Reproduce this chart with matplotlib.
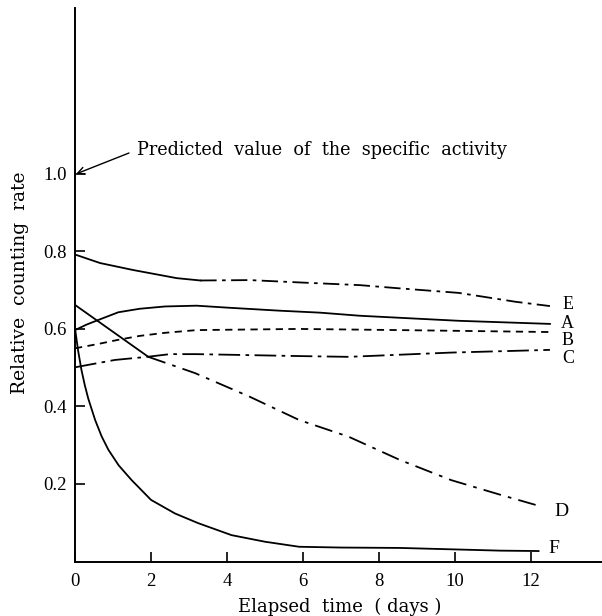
import matplotlib
matplotlib.use("Agg")
import matplotlib.pyplot as plt

# values
e_days = [0, 0.66, 1.53, 2.68, 3.3, 4.6, 5.9, 7.5, 8.5, 10.1, 11.6, 12.5]
e_vals = [0.792, 0.770, 0.752, 0.731, 0.725, 0.726, 0.720, 0.713, 0.705, 0.693, 0.670, 0.659]
a_days = [0, 0.3, 0.61, 1.14, 1.7, 2.37, 3.2, 4.0, 5.4, 6.45, 7.5, 10.1, 12.5]
a_vals = [0.597, 0.611, 0.623, 0.643, 0.652, 0.658, 0.660, 0.655, 0.647, 0.642, 0.634, 0.621, 0.613]
b_days = [0, 0.6, 1.14, 1.7, 2.37, 3.2, 5.9, 8.55, 12.5]
b_vals = [0.550, 0.561, 0.572, 0.582, 0.590, 0.597, 0.600, 0.597, 0.592]
c_days = [0, 1.05, 1.9, 2.5, 3.2, 5.9, 7.2, 9.9, 12.5]
c_vals = [0.501, 0.520, 0.528, 0.535, 0.535, 0.530, 0.528, 0.539, 0.546]
d_days = [0, 1.93, 3.16, 4.6, 5.9, 7.2, 8.55, 9.9, 11.2, 12.3]
d_vals = [0.662, 0.528, 0.486, 0.425, 0.365, 0.322, 0.262, 0.210, 0.172, 0.141]
f_days = [0, 0.08, 0.17, 0.26, 0.35, 0.53, 0.7, 0.88, 1.15, 1.49, 2.0, 2.63, 3.24, 4.12, 5.0, 5.9, 7.0, 8.55, 11.2, 12.2]
f_vals = [0.602, 0.545, 0.494, 0.454, 0.420, 0.365, 0.323, 0.288, 0.248, 0.210, 0.159, 0.124, 0.099, 0.068, 0.051, 0.038, 0.036, 0.035, 0.028, 0.027]

x_ticks = [0, 2, 4, 6, 8, 10, 12]
y_ticks = [0.2, 0.4, 0.6, 0.8, 1.0]
y_ticklabels = ["0.2", "0.4", "0.6", "0.8", "1.0"]

plt.rcParams['font.family'] = ['Liberation Serif', 'DejaVu Serif']

fig = plt.figure(figsize=(6.02, 6.16), dpi=100)
ax = fig.add_axes([75 / 602, 54.5 / 616, 527 / 602, 553.5 / 616])
ax.set_xlim(0, 13.87)
ax.set_ylim(0, 1.428)

lw = 1.3
# E: solid first, then long dash / dot
ax.plot(e_days[:5], e_vals[:5], color='black', lw=lw)
ax.plot(e_days[4:], e_vals[4:], color='black', lw=lw, dashes=(9, 3, 2, 3))
ax.plot(a_days, a_vals, color='black', lw=lw)
ax.plot(b_days, b_vals, color='black', lw=lw, dashes=(4, 3))
ax.plot(c_days, c_vals, color='black', lw=lw, dashes=(12, 3, 2, 3))
# D: solid to day 2, then dash-dot
ax.plot(d_days[:2], d_vals[:2], color='black', lw=lw)
ax.plot(d_days[1:], d_vals[1:], color='black', lw=lw, dashes=(10, 4, 2, 4))
ax.plot(f_days, f_vals, color='black', lw=lw)

# curve labels at the right ends
ax.text(12.97, 0.662, "E", fontsize=13, ha='center', va='center')
ax.text(12.97, 0.613, "A", fontsize=13, ha='center', va='center')
ax.text(12.97, 0.569, "B", fontsize=13, ha='center', va='center')
ax.text(12.97, 0.525, "C", fontsize=13, ha='center', va='center')
ax.text(12.8, 0.128, "D", fontsize=14, ha='center', va='center')
ax.text(12.6, 0.033, "F", fontsize=14, ha='center', va='center')

ax.annotate("Predicted  value  of  the  specific  activity",
            xy=(0.03, 1.0), xytext=(1.63, 1.062), fontsize=12.7,
            family='DejaVu Serif', va='center', ha='left',
            arrowprops=dict(arrowstyle='->', color='black', lw=1.0,
                            relpos=(0, 0.5), shrinkA=4, shrinkB=0))

for s in ['top', 'right']:
    ax.spines[s].set_visible(False)
for s in ['left', 'bottom']:
    ax.spines[s].set_linewidth(1.4)

ax.set_xticks(x_ticks)
ax.set_xticklabels([str(t) for t in x_ticks])
ax.set_yticks(y_ticks)
ax.set_yticklabels(y_ticklabels)
ax.tick_params(axis='both', direction='in', length=7, width=1.2, labelsize=13.5)
ax.tick_params(axis='x', pad=8)
ax.tick_params(axis='y', pad=6)

fig.text(20 / 602, 1 - 283 / 616, "Relative  counting  rate", rotation=90,
         ha='center', va='center', fontsize=13.5, family='DejaVu Serif')
fig.text(340 / 602, 1 - 607 / 616, "Elapsed  time  ( days )",
         ha='center', va='center', fontsize=13, family='DejaVu Serif')

fig.savefig("out.png", dpi=100)
